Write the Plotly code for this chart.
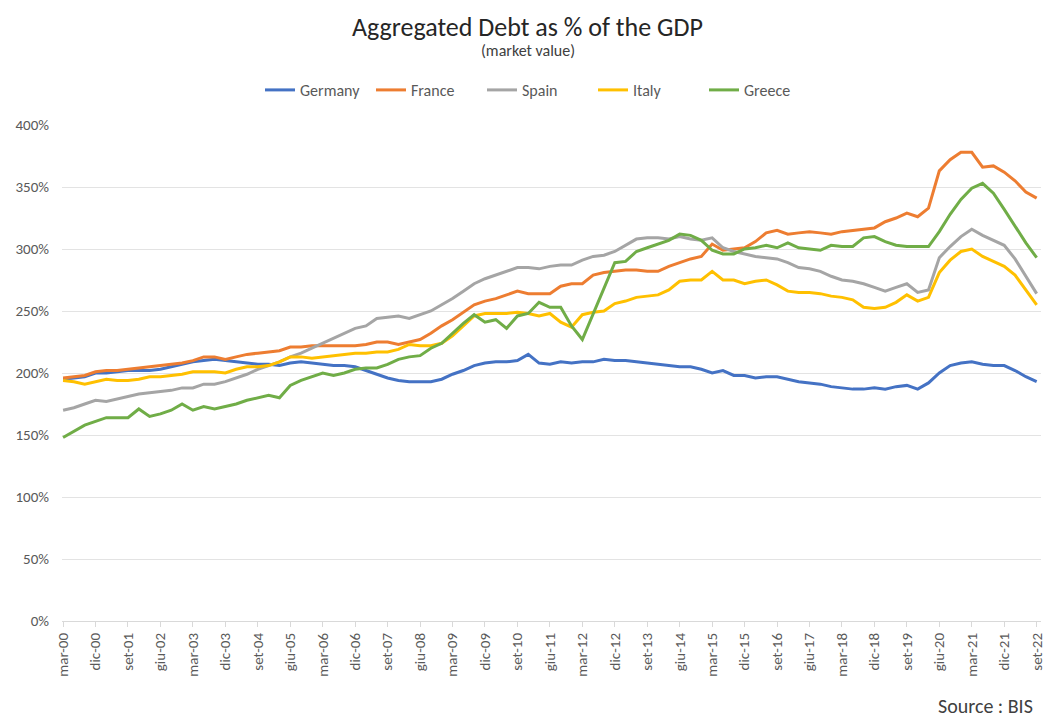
import plotly.graph_objects as go

# Quarter-end labels (Italian month abbreviations), mar-00 .. set-22
MONTHS = ["mar", "giu", "set", "dic"]
QUARTERS = [f"{m}-{y % 100:02d}" for y in range(2000, 2023) for m in MONTHS][:91]

# Y-axis ticks
Y_TICKS = list(range(0, 401, 50))
Y_TICK_TEXT = [f"{v}%" for v in Y_TICKS]

# Aggregated debt as % of GDP (market value), quarterly
germany = [195, 196, 197, 200, 200, 201, 202, 202, 202, 203, 205, 207, 209, 210, 211, 210,
           209, 208, 207, 207, 206, 208, 209, 208, 207, 206, 206, 205, 202, 199, 196, 194,
           193, 193, 193, 195, 199, 202, 206, 208, 209, 209, 210, 215, 208, 207, 209, 208,
           209, 209, 211, 210, 210, 209, 208, 207, 206, 205, 205, 203, 200, 202, 198, 198,
           196, 197, 197, 195, 193, 192, 191, 189, 188, 187, 187, 188, 187, 189, 190, 187,
           192, 200, 206, 208, 209, 207, 206, 206, 202, 197, 193]
france = [196, 197, 198, 201, 202, 202, 203, 204, 205, 206, 207, 208, 210, 213, 213, 211,
          213, 215, 216, 217, 218, 221, 221, 222, 222, 222, 222, 222, 223, 225, 225, 223,
          225, 227, 232, 238, 243, 249, 255, 258, 260, 263, 266, 264, 264, 264, 270, 272,
          272, 279, 281, 282, 283, 283, 282, 282, 286, 289, 292, 294, 304, 299, 300, 301,
          306, 313, 315, 312, 313, 314, 313, 312, 314, 315, 316, 317, 322, 325, 329, 326,
          333, 363, 372, 378, 378, 366, 367, 362, 355, 346, 341]
spain = [170, 172, 175, 178, 177, 179, 181, 183, 184, 185, 186, 188, 188, 191, 191, 193,
         196, 199, 203, 206, 209, 213, 216, 220, 224, 228, 232, 236, 238, 244, 245, 246,
         244, 247, 250, 255, 260, 266, 272, 276, 279, 282, 285, 285, 284, 286, 287, 287,
         291, 294, 295, 298, 303, 308, 309, 309, 308, 310, 308, 307, 309, 301, 298, 296,
         294, 293, 292, 289, 285, 284, 282, 278, 275, 274, 272, 269, 266, 269, 272, 265,
         267, 293, 302, 310, 316, 311, 307, 303, 292, 278, 264]
italy = [194, 193, 191, 193, 195, 194, 194, 195, 197, 197, 198, 199, 201, 201, 201, 200,
         203, 205, 205, 206, 209, 213, 213, 212, 213, 214, 215, 216, 216, 217, 217, 219,
         223, 222, 222, 224, 230, 238, 246, 248, 248, 248, 249, 248, 246, 248, 241, 237,
         247, 249, 250, 256, 258, 261, 262, 263, 267, 274, 275, 275, 282, 275, 275, 272,
         274, 275, 271, 266, 265, 265, 264, 262, 261, 259, 253, 252, 253, 257, 263, 258,
         261, 281, 291, 298, 300, 294, 290, 286, 279, 267, 255]
greece = [148, 153, 158, 161, 164, 164, 164, 171, 165, 167, 170, 175, 170, 173, 171, 173,
          175, 178, 180, 182, 180, 190, 194, 197, 200, 198, 200, 203, 204, 204, 207, 211,
          213, 214, 220, 224, 232, 240, 247, 241, 243, 236, 246, 248, 257, 253, 253, 238,
          227, 248, 268, 289, 290, 298, 301, 304, 307, 312, 311, 307, 299, 296, 296, 300,
          301, 303, 301, 305, 301, 300, 299, 303, 302, 302, 309, 310, 306, 303, 302, 302,
          302, 314, 328, 340, 349, 353, 345, 332, 318, 305, 293]

SERIES = [
    ("Germany", germany, "#4472C4"),
    ("France", france, "#ED7D31"),
    ("Spain", spain, "#A5A5A5"),
    ("Italy", italy, "#FFC000"),
    ("Greece", greece, "#70AD47"),
]

FONT = "Carlito, Lato, 'Liberation Sans', sans-serif"
TEXT = "#595959"

fig = go.Figure()
for name, values, color in SERIES:
    fig.add_trace(go.Scatter(
        x=QUARTERS, y=values, name=name, mode="lines",
        line=dict(color=color, width=3),
    ))

fig.update_layout(
    width=1052, height=720,
    margin=dict(l=62, r=6, t=125, b=99),
    paper_bgcolor="white", plot_bgcolor="white",
    font=dict(family=FONT, size=15, color=TEXT),
    showlegend=True,
    legend=dict(
        orientation="h", xref="container", yref="container",
        x=260 / 1052, y=1 - 73 / 720, xanchor="left", yanchor="top",
        entrywidth=66, entrywidthmode="pixels",
        font=dict(family=FONT, size=16, color=TEXT),
        itemwidth=30,
    ),
    annotations=[
        dict(text="Aggregated Debt as % of the GDP", x=0.4756, y=1.198,
             xref="paper", yref="paper", xanchor="center", yanchor="middle",
             showarrow=False,
             font=dict(family=FONT, size=26, color="#262626")),
        dict(text="(market value)", x=0.4756, y=1.151,
             xref="paper", yref="paper", xanchor="center", yanchor="middle",
             showarrow=False,
             font=dict(family=FONT, size=16, color="#404040")),
        dict(text="Source : BIS", x=0.994, y=-0.171,
             xref="paper", yref="paper", xanchor="right", yanchor="middle",
             showarrow=False,
             font=dict(family=FONT, size=20, color="#404040")),
    ],
)

fig.update_xaxes(
    type="category", range=[-0.1, 90.4],
    tickmode="array", tickvals=QUARTERS[::3], ticktext=QUARTERS[::3],
    tickangle=-90, ticks="outside", ticklen=5, tickcolor="#d9d9d9",
    showline=True, linecolor="#d9d9d9", linewidth=1,
    showgrid=False, zeroline=False,
    tickfont=dict(family=FONT, size=15, color=TEXT),
)
fig.update_yaxes(
    range=[0, 400], tickmode="array", tickvals=Y_TICKS, ticktext=Y_TICK_TEXT,
    showgrid=True, gridcolor="#e3e3e3", gridwidth=1,
    zeroline=False, showline=False, ticks="", ticklabelstandoff=12,
    tickfont=dict(family=FONT, size=15, color=TEXT),
)

fig.write_html("out.html")
